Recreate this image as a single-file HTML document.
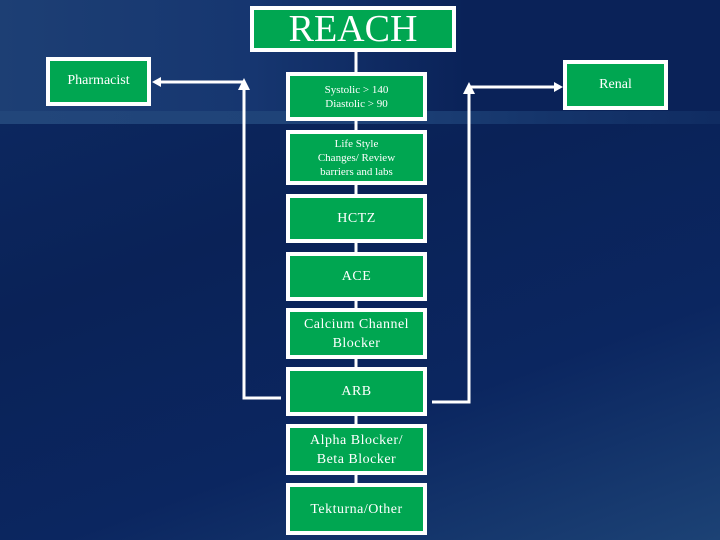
<!DOCTYPE html>
<html><head><meta charset="utf-8"><style>
*{margin:0;padding:0;box-sizing:border-box}
body{width:720px;height:540px;overflow:hidden;position:relative;font-family:"Liberation Serif",serif;
background:linear-gradient(160deg,#0d2a63 0%,#0a2257 40%,#0b2660 70%,#1c4275 100%);}
.top{position:absolute;left:0;top:0;width:720px;height:111px;background:linear-gradient(90deg,#1d3f74 0%,#163670 35%,#0a2258 65%,#0a2258 100%)}
.band{position:absolute;left:0;top:111px;width:720px;height:13px;background:linear-gradient(90deg,#22467a 0%,#1e4278 50%,#15356b 75%,#102c62 100%)}
.b{position:absolute;border:4px solid #fff;background:#00a651;color:#fff;display:flex;align-items:center;justify-content:center;text-align:center;}
.s{font-size:11px;line-height:14px;}
.m{font-size:14px;line-height:19px;letter-spacing:0.5px}
</style></head><body>
<div class="top"></div><div class="band"></div>
<svg width="720" height="540" style="position:absolute;left:0;top:0">
<g stroke="#fff" stroke-width="3" fill="none">
<line x1="356" y1="50" x2="356" y2="490"/>
<polyline points="281,398 244,398 244,88"/>
<line x1="244" y1="82" x2="158" y2="82"/>
<polyline points="432,402 469,402 469,92"/>
<line x1="469" y1="87" x2="556" y2="87"/>
</g>
<g fill="#fff">
<polygon points="244,78 238,90 250,90"/>
<polygon points="469,82 463,94 475,94"/>
<polygon points="152,82 161,77 161,87"/>
<polygon points="563,87 554,82 554,92"/>
</g>
</svg>
<div class="b" style="left:250px;top:6px;width:206px;height:46px;font-size:38px;line-height:38px">REACH</div>
<div class="b" style="left:46px;top:57px;width:105px;height:49px;font-size:14px;align-items:flex-start;padding-top:12px">Pharmacist</div>
<div class="b" style="left:563px;top:60px;width:105px;height:50px;font-size:14px">Renal</div>
<div class="b s" style="left:286px;top:72px;width:141px;height:49px">Systolic &gt; 140<br>Diastolic &gt; 90</div>
<div class="b s" style="left:286px;top:130px;width:141px;height:55px">Life Style<br>Changes/ Review<br>barriers and labs</div>
<div class="b m" style="left:286px;top:194px;width:141px;height:49px">HCTZ</div>
<div class="b m" style="left:286px;top:252px;width:141px;height:49px">ACE</div>
<div class="b m" style="left:286px;top:308px;width:141px;height:51px">Calcium Channel<br>Blocker</div>
<div class="b m" style="left:286px;top:367px;width:141px;height:49px">ARB</div>
<div class="b m" style="left:286px;top:424px;width:141px;height:51px">Alpha Blocker/<br>Beta Blocker</div>
<div class="b m" style="left:286px;top:483px;width:141px;height:52px">Tekturna/Other</div>
</body></html>
